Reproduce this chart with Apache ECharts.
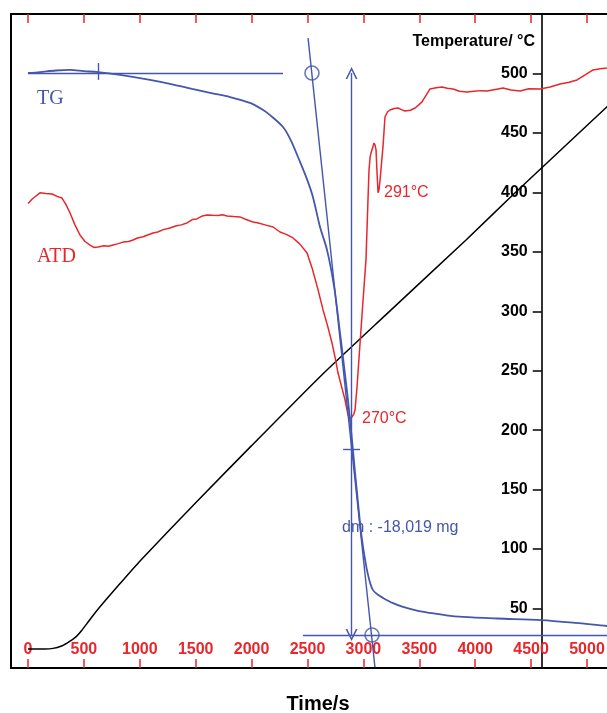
<!DOCTYPE html>
<html>
<head>
<meta charset="utf-8">
<script src="https://cdn.jsdelivr.net/npm/echarts@6/dist/echarts.min.js"></script>
<style>html,body{margin:0;padding:0;background:#fff;overflow:hidden;}#c{width:607px;height:713px;}</style>
</head>
<body>
<div id="c"></div>
<script>
// ---- data (time in s) ----
const timeTicks = [0, 500, 1000, 1500, 2000, 2500, 3000, 3500, 4000, 4500, 5000];
const tempTicks = [50, 100, 150, 200, 250, 300, 350, 400, 450, 500];

// Temperature programme [time, °C]
const tempData = [[0,16],[150,16],[224,16.5],[300,18.5],[349,21],[400,24],[438,27],[480,31.5],[528,37.5],[580,44],[644,51.5],[730,61],[823,71],[1002,90],[1500,139],[2000,187],[2612,245],[3200,297],[3918,360],[4338,398],[5179,472],[5440,495]];

// ATD signal (arbitrary units) [time, value]
const dtaData = [[0,391],[40,395],[107,400],[160,399.5],[215,399],[260,397],[304,395.6],[340,390],[376,383],[420,373],[465,364.5],[510,359],[555,356],[590,354],[626,354.4],[680,355.5],[720,355],[760,356.1],[800,357],[850,358.5],[900,359],[939,360.3],[980,362],[1030,363],[1070,364.5],[1118,366.2],[1160,367],[1210,369],[1270,370.4],[1320,372],[1370,373],[1422,374.6],[1470,377.5],[1510,378],[1560,380.5],[1601,381.3],[1650,381],[1700,380.8],[1740,381.5],[1780,380.5],[1840,380],[1896,379.7],[1950,377.5],[2013,375.4],[2060,374.5],[2120,373],[2192,371.2],[2254,367],[2310,365],[2370,362],[2430,357],[2496,349.3],[2540,337],[2590,320],[2639,301.4],[2680,288],[2719,273.6],[2750,260],[2773,248.3],[2810,235],[2836,225.6],[2862,213],[2880,210.5],[2898,211.3],[2915,214],[2925,217.2],[2943,236.5],[2970,273.6],[2997,309.8],[3023,343.5],[3041,394],[3050,419],[3060,430],[3068,433.5],[3080,437],[3095,441.9],[3105,440],[3113,436],[3122,416.7],[3131,400],[3140,403],[3149,410.8],[3162,425],[3175,438.6],[3193,463.8],[3215,468],[3238,469.7],[3275,471],[3310,471.4],[3340,470],[3372,468.9],[3420,469.5],[3462,471.4],[3495,474],[3524,476.5],[3560,482],[3596,487.4],[3650,488.5],[3703,489.1],[3750,488],[3802,487.4],[3860,485.5],[3927,484.9],[3990,485.5],[4050,486],[4106,485.7],[4180,487],[4249,488.2],[4320,486.5],[4401,485.7],[4480,487.5],[4580,487.4],[4670,489],[4759,491.6],[4840,493],[4911,495],[4980,499],[5054,503.4],[5120,504.5],[5179,505.1],[5300,507],[5440,509]];

// TG mass change (mg) [time, mg]
const tgData = [[0,0],[107,0.03],[250,0.08],[376,0.1],[500,0.06],[626,0.03],[823,-0.06],[1091,-0.22],[1300,-0.37],[1467,-0.51],[1650,-0.65],[1807,-0.77],[1986,-0.96],[2100,-1.18],[2165,-1.35],[2281,-1.73],[2350,-2.15],[2433,-2.85],[2500,-3.45],[2549,-3.98],[2612,-4.94],[2675,-5.68],[2740,-6.9],[2791,-8.34],[2830,-9.5],[2862,-10.48],[2898,-11.77],[2925,-12.8],[2952,-13.79],[2975,-14.6],[2997,-15.2],[3015,-15.6],[3032,-15.94],[3060,-16.35],[3086,-16.58],[3130,-16.73],[3175,-16.83],[3260,-16.99],[3354,-17.12],[3470,-17.23],[3596,-17.31],[3740,-17.39],[3891,-17.44],[4200,-17.49],[4589,-17.54],[4900,-17.63],[5179,-17.73],[5440,-17.8]];

// TG construction (time, mg)
const dm = -18.019;
const baseTop = [[0, 0], [2281, 0]];
const onsetTick = [[626, 0.32], [626, -0.22]];
const tangent = [[2505, 1.12], [3103, -19.05]];
const baseBottom = [[2460, dm], [5440, dm]];
const dmArrow = [[2894, 0], [2894, dm]];
const midTick = [[2818, -12.055], [2970, -12.055]];
const circles = [[2540, 0], [3077, dm]];

const BLUE = '#4556ad';
const RED = '#e8262b';
const FONT = '"Liberation Sans", Arial, sans-serif';

const chart = echarts.init(document.getElementById('c'), null, {renderer: 'canvas'});
const vArrow = 'path://M0,10 L5,0 L10,10 L8.6,10 L5,2.8 L1.4,10 Z';
const plain = v => String(v);

chart.setOption({
  animation: false,
  backgroundColor: '#fff',
  grid: {left: 11, top: 14, width: 626, height: 654, show: true, borderColor: '#000', borderWidth: 2, containLabel: false, outerBoundsMode: 'none'},
  xAxis: [{
    type: 'value', min: -152.1, max: 5447.2, position: 'bottom',
    axisLine: {show: false, onZero: false}, splitLine: {show: false},
    axisTick: {show: true, inside: true, length: 9, customValues: timeTicks, lineStyle: {color: RED, width: 1.5}},
    axisLabel: {show: true, inside: true, margin: 10, customValues: timeTicks, formatter: plain, color: RED, fontWeight: 'bold', fontSize: 16, fontFamily: FONT}
  }, {
    type: 'value', min: -152.1, max: 5447.2, position: 'top',
    axisLine: {show: false, onZero: false}, splitLine: {show: false},
    axisTick: {show: true, inside: true, length: 9, customValues: timeTicks, lineStyle: {color: RED, width: 1.5}},
    axisLabel: {show: false}
  }],
  yAxis: [{
    type: 'value', min: 0, max: 550, position: 'left', offset: -530.7,
    axisLine: {show: true, onZero: false, lineStyle: {color: '#000', width: 1.6}},
    splitLine: {show: false},
    axisTick: {show: true, inside: false, length: 9, customValues: tempTicks, lineStyle: {color: '#000', width: 1.5}},
    axisLabel: {show: true, margin: 14, customValues: tempTicks, formatter: plain, color: '#000', fontWeight: 'bold', fontSize: 16, fontFamily: FONT}
  }, {
    type: 'value', min: -19.077, max: 1.892, show: false, axisLine: {onZero: false}
  }, {
    type: 'value', min: 0, max: 550.5, show: false, axisLine: {onZero: false}
  }],
  series: [{
    type: 'line', name: 'Temperature', xAxisIndex: 0, yAxisIndex: 0, data: tempData,
    showSymbol: false, smooth: 0.2, lineStyle: {color: '#000', width: 1.5}, z: 3
  }, {
    type: 'line', name: 'ATD', xAxisIndex: 0, yAxisIndex: 2, data: dtaData,
    showSymbol: false, lineStyle: {color: RED, width: 1.5}, z: 4
  }, {
    type: 'line', name: 'TG', xAxisIndex: 0, yAxisIndex: 1, data: tgData,
    showSymbol: false, smooth: 0.3, lineStyle: {color: BLUE, width: 1.8}, z: 5,
    markLine: {
      silent: true, symbol: ['none', 'none'], label: {show: false},
      lineStyle: {color: BLUE, width: 1.4, type: 'solid'},
      data: [
        [{coord: baseTop[0]}, {coord: baseTop[1]}],
        [{coord: onsetTick[0]}, {coord: onsetTick[1]}],
        [{coord: tangent[0]}, {coord: tangent[1]}],
        [{coord: baseBottom[0]}, {coord: baseBottom[1]}],
        [{coord: midTick[0]}, {coord: midTick[1]}],
        [{coord: dmArrow[0], symbol: vArrow, symbolSize: [12, 12]}, {coord: dmArrow[1], symbol: vArrow, symbolSize: [12, 12]}]
      ]
    }
  }, {
    type: 'scatter', name: 'marks', xAxisIndex: 0, yAxisIndex: 1, data: circles,
    symbol: 'circle', symbolSize: 14, silent: true,
    itemStyle: {color: 'rgba(255,255,255,0)', borderColor: BLUE, borderWidth: 1.6}, z: 6
  }],
  graphic: [
    {type: 'text', x: 535, y: 42, style: {text: 'Temperature/ °C', font: 'bold 16px ' + FONT, fill: '#000', align: 'right', verticalAlign: 'middle'}},
    {type: 'text', x: 318, y: 704, style: {text: 'Time/s', font: 'bold 20px ' + FONT, fill: '#000', align: 'center', verticalAlign: 'middle'}},
    {type: 'text', x: 37, y: 99, style: {text: 'TG', font: '20px "Liberation Serif", "Times New Roman", serif', fill: BLUE, align: 'left', verticalAlign: 'middle'}},
    {type: 'text', x: 37, y: 257, style: {text: 'ATD', font: '20px "Liberation Serif", "Times New Roman", serif', fill: RED, align: 'left', verticalAlign: 'middle'}},
    {type: 'text', x: 362, y: 419, style: {text: '270°C', font: '16px ' + FONT, fill: RED, align: 'left', verticalAlign: 'middle'}},
    {type: 'text', x: 384, y: 193, style: {text: '291°C', font: '16px ' + FONT, fill: RED, align: 'left', verticalAlign: 'middle'}},
    {type: 'text', x: 342, y: 528, style: {text: 'dm : -18,019 mg', font: '16px ' + FONT, fill: BLUE, align: 'left', verticalAlign: 'middle'}}
  ]
});
</script>
</body>
</html>
